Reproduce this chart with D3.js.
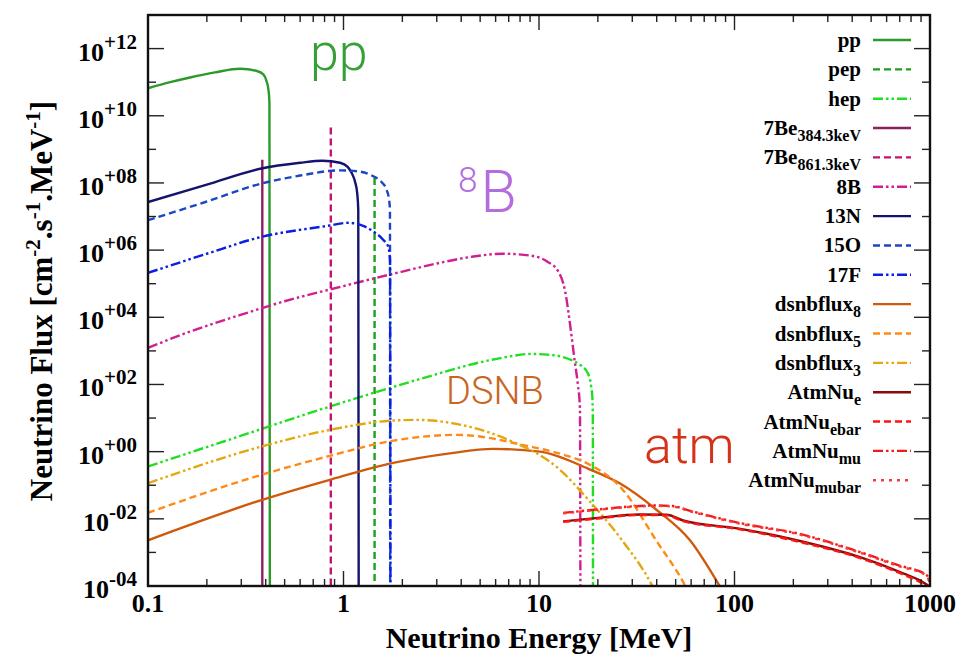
<!DOCTYPE html>
<meta charset="utf-8">
<style>
  body { margin: 0; background: #fff; }
  svg { display: block; }
</style>
<svg width="966" height="659"></svg>
<script src="https://d3js.org/d3.v7.min.js"></script>
<script>

//START: Data (energy in MeV, flux in cm-2 s-1 MeV-1)
var ppE      = [0.1, 0.13, 0.164, 0.22, 0.296, 0.36, 0.389, 0.404, 0.413, 0.418, 0.4202];
var ppFlux   = [6.6e10, 1.0e11, 1.38e11, 1.95e11, 2.5e11, 2.15e11, 1.7e11, 1.07e11, 6e10, 2.5e10, 1e-6];

var pepE     = [1.442, 1.442];
var pepFlux  = [1.4e8, 1e-6];

var hepE     = [0.1, 0.3, 0.851, 2.46, 5, 7, 9, 11, 13, 14.6, 16.5, 17.8, 18.5, 18.75, 18.85, 18.9];
var hepFlux  = [0.363, 2.99, 22, 145, 457, 676, 813, 776, 676, 537, 355, 214, 85, 41.7, 10, 1e-6];

var be384E    = [0.3843, 0.3843];
var be384Flux = [4.9e8, 1e-6];

var be861E    = [0.8613, 0.8613];
var be861Flux = [4.5e9, 1e-6];

var b8E      = [0.1, 0.158, 0.3, 0.5, 1, 2, 3, 4.5, 6.6, 9, 11, 12.5, 13.6, 14.6, 15.2, 15.8, 16.2, 16.3];
var b8Flux   = [1.23e3, 3.47e3, 1.2e4, 3.0e4, 8.5e4, 2.3e5, 4.0e5, 6.3e5, 7.8e5, 6.9e5, 4.6e5, 2.4e5, 6.0e4, 3.5e3, 540, 100, 20, 1e-6];

var n13E     = [0.1, 0.2, 0.38, 0.6, 0.78, 0.96, 1.05, 1.10, 1.15, 1.175, 1.19, 1.197];
var n13Flux  = [2.7e7, 8.9e7, 2.7e8, 4.0e8, 4.6e8, 4.0e8, 3.0e8, 2.0e8, 1.0e8, 5.0e7, 1.6e7, 1e-6];

var o15E     = [0.1, 0.2, 0.373, 0.6, 0.96, 1.2, 1.42, 1.55, 1.66, 1.71, 1.728, 1.733];
var o15Flux  = [7.8e6, 2.8e7, 9.3e7, 1.66e8, 2.37e8, 2.19e8, 1.58e8, 1.12e8, 6.3e7, 3.2e7, 1.6e7, 1e-6];

var f17E     = [0.1, 0.2, 0.373, 0.851, 1.05, 1.25, 1.42, 1.6, 1.69, 1.73, 1.74];
var f17Flux  = [2.1e5, 7.8e5, 2.4e6, 5.4e6, 6.5e6, 5.4e6, 3.6e6, 2.0e6, 1.3e6, 5e5, 1e-6];

var dsnb8E    = [0.1, 0.38, 0.851, 1.77, 3.5, 5.8, 10.1, 17.8, 26, 39.7, 59.2, 84, 95];
var dsnb8Flux = [2.3e-3, 3.6e-2, 0.145, 0.453, 0.89, 1.21, 1.0, 0.313, 0.112, 0.019, 2.3e-3, 1e-4, 3e-5];

var dsnb5E    = [0.1, 0.38, 0.851, 1.77, 3.79, 9, 13, 17.8, 26.6, 39.7, 56, 62];
var dsnb5Flux = [0.0151, 0.204, 0.748, 2.09, 3.16, 1.42, 0.85, 0.437, 0.0776, 2.3e-3, 1e-4, 3e-5];

var dsnb3E    = [0.1, 0.38, 0.851, 1.79, 2.37, 3.5, 6.84, 12.8, 17.8, 26.6, 38, 42];
var dsnb3Flux = [0.115, 1.42, 4.45, 8.43, 8.83, 7.24, 2.34, 0.288, 0.038, 2.3e-3, 1e-4, 3e-5];

var atmE        = [13.3, 20, 32.5, 45, 54.6, 103.6, 216, 439, 703, 900, 1000];
var atmEFlux    = [8.4e-3, 1.07e-2, 1.35e-2, 1.32e-2, 8.9e-3, 5.2e-3, 2.19e-3, 7.2e-4, 2.6e-4, 1.4e-4, 9.5e-5];
var atmEbarFlux = [8.1e-3, 1.02e-2, 1.3e-2, 1.27e-2, 8.5e-3, 5.0e-3, 2.04e-3, 6.8e-4, 2.4e-4, 1.26e-4, 8.7e-5];

var atmMuE       = [13.3, 20, 29.9, 40, 48, 60, 107.6, 216, 439, 703, 900, 942, 975, 1000];
var atmMuFlux    = [1.5e-2, 1.9e-2, 2.34e-2, 2.5e-2, 2.4e-2, 1.7e-2, 7.4e-3, 3.55e-3, 1.02e-3, 4.0e-4, 2.63e-4, 2.3e-4, 1.9e-4, 1e-4];
var atmMubarFlux = [1.46e-2, 1.85e-2, 2.28e-2, 2.43e-2, 2.32e-2, 1.65e-2, 7.1e-3, 3.4e-3, 9.8e-4, 3.8e-4, 2.5e-4, 2.2e-4, 1.8e-4, 9e-5];

var xTickLabels = ["0.1", "1", "10", "100", "1000"];
var yTickExps   = [-4, -2, 0, 2, 4, 6, 8, 10, 12];
//END: Data


//START: Init
const svg = d3.select("svg"),
    width = +svg.attr("width"),
    height = +svg.attr("height");

const pLeft = 148, pRight = 930, pTop = 15, pBottom = 586;
const serif = "'Liberation Serif', 'Times New Roman', serif";
const sans = "Roboto, 'Open Sans', sans-serif";

const x = d3.scaleLog().domain([0.1, 1000]).range([pLeft, pRight]);
const y = d3.scaleLog().domain([1e-4, 1e13]).range([pBottom, pTop]);

var solid = null, dashed = "7,4", dashDot = "10,3,2.5,3,2.5,3", dotted = "3,5";

function pairs(E, F) {
  return E.map(function(e, i) { return [e, F[i]]; });
}

var series = [
  {name: "pp", data: pairs(ppE, ppFlux), color: "#2a9a2a", dash: solid},
  {name: "pep", data: pairs(pepE, pepFlux), color: "#1aa01a", dash: dashed},
  {name: "hep", data: pairs(hepE, hepFlux), color: "#1ee01e", dash: dashDot},
  {name: "7Be", sub: "384.3keV", data: pairs(be384E, be384Flux), color: "#8c1f5e", dash: solid},
  {name: "7Be", sub: "861.3keV", data: pairs(be861E, be861Flux), color: "#c4136c", dash: dashed},
  {name: "8B", data: pairs(b8E, b8Flux), color: "#d21f90", dash: dashDot},
  {name: "13N", data: pairs(n13E, n13Flux), color: "#14146e", dash: solid},
  {name: "15O", data: pairs(o15E, o15Flux), color: "#1a48c4", dash: dashed},
  {name: "17F", data: pairs(f17E, f17Flux), color: "#0a1ee6", dash: dashDot},
  {name: "dsnbflux", sub: "8", data: pairs(dsnb8E, dsnb8Flux), color: "#cf5a0c", dash: solid},
  {name: "dsnbflux", sub: "5", data: pairs(dsnb5E, dsnb5Flux), color: "#ff8a18", dash: dashed},
  {name: "dsnbflux", sub: "3", data: pairs(dsnb3E, dsnb3Flux), color: "#e2a80e", dash: dashDot},
  {name: "AtmNu", sub: "e", data: pairs(atmE, atmEFlux), color: "#8b0b0b", dash: solid},
  {name: "AtmNu", sub: "ebar", data: pairs(atmE, atmEbarFlux), color: "#ff1414", dash: dashed},
  {name: "AtmNu", sub: "mu", data: pairs(atmMuE, atmMuFlux), color: "#f01a1a", dash: dashDot},
  {name: "AtmNu", sub: "mubar", data: pairs(atmMuE, atmMubarFlux), color: "#ff3838", dash: dotted}
];
//END: Init


//START: Curves
svg.append("defs").append("clipPath").attr("id", "plotclip")
  .append("rect").attr("x", pLeft).attr("y", pTop)
  .attr("width", pRight - pLeft).attr("height", pBottom - pTop);

var line = d3.line()
  .x(function(d) { return x(d[0]); })
  .y(function(d) { return y(d[1]); })
  .curve(d3.curveMonotoneX);

svg.append("g").attr("clip-path", "url(#plotclip)")
  .selectAll("path")
  .data(series)
  .enter()
  .append("path")
  .attr("d", function(d) { return line(d.data); })
  .attr("fill", "none")
  .attr("stroke", function(d) { return d.color; })
  .attr("stroke-width", 2.4)
  .attr("stroke-dasharray", function(d) { return d.dash; });
//END: Curves


//START: Axes
var majorX = [0.1, 1, 10, 100, 1000];
var minorX = [];
[0.1, 1, 10, 100].forEach(function(d) {
  for (var k = 2; k < 10; k++) minorX.push(d * k);
});
var majorY = yTickExps.map(function(e) { return Math.pow(10, e); });
var minorY = d3.range(-3, 13, 2).map(function(e) { return Math.pow(10, e); });

var ticks = svg.append("g").attr("stroke", "#222").attr("stroke-width", 1.4);

function tickX(vals, len) {
  vals.forEach(function(v) {
    ticks.append("line").attr("x1", x(v)).attr("x2", x(v)).attr("y1", pBottom).attr("y2", pBottom - len);
    ticks.append("line").attr("x1", x(v)).attr("x2", x(v)).attr("y1", pTop).attr("y2", pTop + len);
  });
}
function tickY(vals, len) {
  vals.forEach(function(v) {
    ticks.append("line").attr("y1", y(v)).attr("y2", y(v)).attr("x1", pLeft).attr("x2", pLeft + len);
    ticks.append("line").attr("y1", y(v)).attr("y2", y(v)).attr("x1", pRight).attr("x2", pRight - len);
  });
}
tickX(majorX, 15);
tickX(minorX, 7);
tickY(majorY, 16);
tickY(minorY, 8);

svg.append("rect")
  .attr("x", pLeft).attr("y", pTop)
  .attr("width", pRight - pLeft).attr("height", pBottom - pTop)
  .attr("fill", "none").attr("stroke", "#111").attr("stroke-width", 2.4);

svg.append("g").selectAll("text")
  .data(majorX)
  .enter()
  .append("text")
  .attr("x", function(d) { return x(d); })
  .attr("y", 612)
  .attr("text-anchor", "middle")
  .style("font-family", serif).style("font-weight", "bold").style("font-size", "26px")
  .text(function(d, i) { return xTickLabels[i]; });

var ylab = svg.append("g").selectAll("text")
  .data(yTickExps)
  .enter()
  .append("text")
  .attr("x", 137)
  .attr("y", function(d) { return y(Math.pow(10, d)) + 12; })
  .attr("text-anchor", "end")
  .style("font-family", serif).style("font-weight", "bold").style("font-size", "26px");
ylab.append("tspan").text("10");
ylab.append("tspan").attr("dy", -12).style("font-size", "21px")
  .text(function(d) { return (d < 0 ? "-" : "+") + (Math.abs(d) < 10 ? "0" : "") + Math.abs(d); });

svg.append("text")
  .attr("x", (pLeft + pRight) / 2).attr("y", 648)
  .attr("text-anchor", "middle")
  .style("font-family", serif).style("font-weight", "bold").style("font-size", "30px")
  .text("Neutrino Energy [MeV]");

var yt = svg.append("text")
  .attr("transform", "translate(52," + 301 + ") rotate(-90)")
  .attr("text-anchor", "middle")
  .style("font-family", serif).style("font-weight", "bold").style("font-size", "31px");
yt.append("tspan").text("Neutrino Flux [cm");
yt.append("tspan").attr("dy", -12).style("font-size", "21px").text("-2");
yt.append("tspan").attr("dy", 12).text(".s");
yt.append("tspan").attr("dy", -12).style("font-size", "21px").text("-1");
yt.append("tspan").attr("dy", 12).text(".MeV");
yt.append("tspan").attr("dy", -12).style("font-size", "21px").text("-1");
yt.append("tspan").attr("dy", 12).text("]");
//END: Axes


//START: Legend
var rowH = 29.35;
var legend = svg.append("g").selectAll("g")
  .data(series)
  .enter()
  .append("g")
  .attr("transform", function(d, i) { return "translate(0," + (40 + i * rowH) + ")"; });

legend.append("line")
  .attr("x1", 873).attr("x2", 911)
  .attr("stroke", function(d) { return d.color; })
  .attr("stroke-width", 2.4)
  .attr("stroke-dasharray", function(d) { return d.dash; });

var lt = legend.append("text")
  .attr("x", 861).attr("y", 7)
  .attr("text-anchor", "end")
  .style("font-family", serif).style("font-weight", "bold").style("font-size", "21px");
lt.append("tspan").text(function(d) { return d.name; });
lt.filter(function(d) { return d.sub; })
  .append("tspan").attr("dy", 6).style("font-size", "16px")
  .text(function(d) { return d.sub; });
//END: Legend


//START: Labels
function note(tx, ty, size, color, txt) {
  return svg.append("text").attr("x", tx).attr("y", ty)
    .style("font-family", sans).style("font-weight", 300)
    .style("font-size", size + "px").attr("fill", color).text(txt);
}
note(310, 70, 52, "#35a035", "pp");
note(446, 404, 38, "#c9651e", "DSNB");
note(644, 463, 52, "#d6321a", "atm");
var b8 = svg.append("text").attr("x", 458).attr("y", 212)
  .style("font-family", sans).style("font-weight", 300).attr("fill", "#b46ddf");
b8.append("tspan").style("font-size", "35px").attr("dy", -20).text("8");
b8.append("tspan").style("font-size", "59px").attr("dx", 3).attr("dy", 20).text("B");
//END: Labels

</script>
